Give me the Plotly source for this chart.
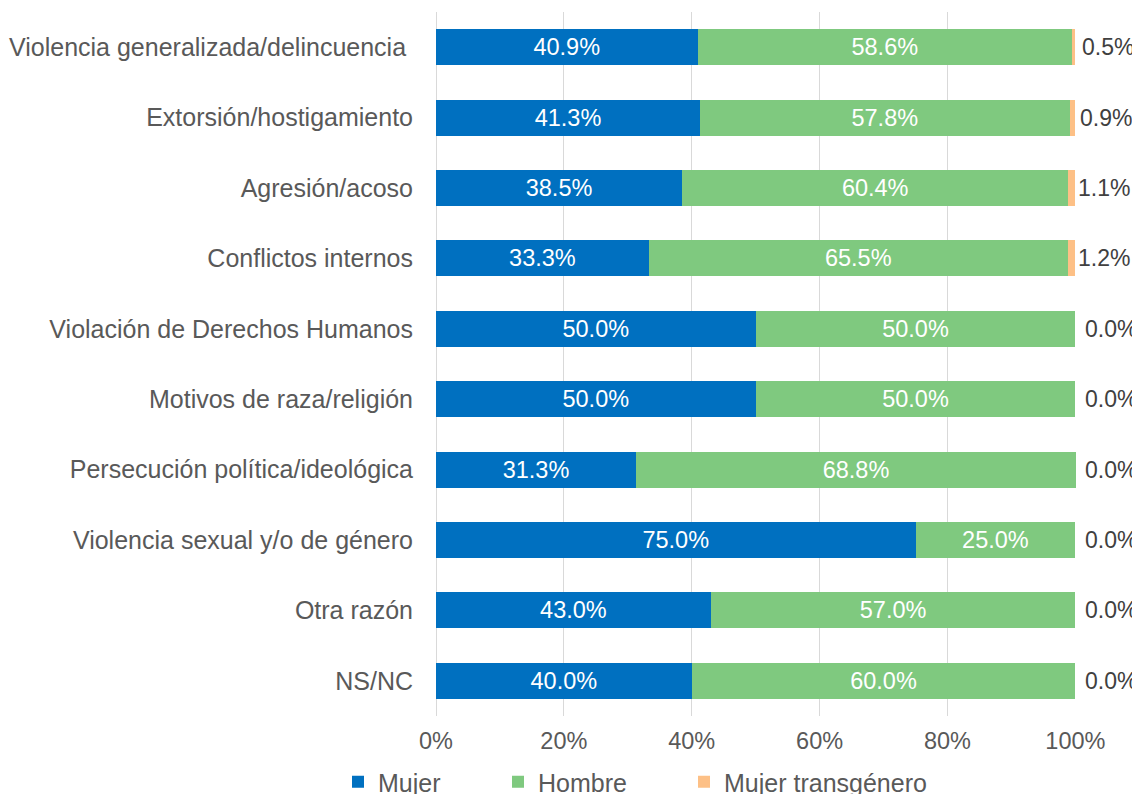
import plotly.graph_objects as go

categories = [
    "Violencia generalizada/delincuencia ",
    "Extorsión/hostigamiento",
    "Agresión/acoso",
    "Conflictos internos",
    "Violación de Derechos Humanos",
    "Motivos de raza/religión",
    "Persecución política/ideológica",
    "Violencia sexual y/o de género",
    "Otra razón",
    "NS/NC",
]
mujer = [40.9, 41.3, 38.5, 33.3, 50.0, 50.0, 31.3, 75.0, 43.0, 40.0]
hombre = [58.6, 57.8, 60.4, 65.5, 50.0, 50.0, 68.8, 25.0, 57.0, 60.0]
trans = [0.5, 0.9, 1.1, 1.2, 0.0, 0.0, 0.0, 0.0, 0.0, 0.0]
x_ticks = [0, 20, 40, 60, 80, 100]
x_ticklabels = ["0%", "20%", "40%", "60%", "80%", "100%"]

C_MUJER = "#0070C0"
C_HOMBRE = "#7FC97F"
C_TRANS = "#FDC086"
FONT = "Liberation Sans, Arial, sans-serif"
FS_DATA = 23.5
FS_CAT = 25
FS_OUT = 23
FS_LEG = 25

W, H = 1132, 786

fig = go.Figure()
fig.add_trace(go.Bar(
    y=categories, x=mujer, name="Mujer", orientation="h",
    marker=dict(color=C_MUJER, line=dict(width=0)),
    text=[f"{v:.1f}%" for v in mujer], textposition="inside",
    insidetextanchor="middle",
    textfont=dict(color="white", size=FS_DATA, family=FONT),
    legend="legend", showlegend=True,
))
fig.add_trace(go.Bar(
    y=categories, x=hombre, name="Hombre", orientation="h",
    marker=dict(color=C_HOMBRE, line=dict(width=0)),
    text=[f"{v:.1f}%" for v in hombre], textposition="inside",
    insidetextanchor="middle",
    textfont=dict(color="white", size=FS_DATA, family=FONT),
    legend="legend2", showlegend=True,
))
fig.add_trace(go.Bar(
    y=categories, x=trans, name="Mujer transgénero", orientation="h",
    marker=dict(color=C_TRANS, line=dict(width=0)),
    textposition="none",
    legend="legend3", showlegend=True,
))

# outside labels for the last series, placed from the start of that segment
bases = [min(a + b, 100) for a, b in zip(mujer, hombre)]
for cat, base, v in zip(categories, bases, trans):
    fig.add_annotation(
        x=base, y=cat, xref="x", yref="y", text=f"{v:.1f}%",
        showarrow=False, xanchor="left", yanchor="middle", xshift=8,
        font=dict(color="#404040", size=FS_OUT, family=FONT),
    )

leg_common = dict(
    orientation="h", yanchor="middle", xanchor="left",
    xref="container", yref="container",
    font=dict(size=FS_LEG, color="#595959", family=FONT),
    bgcolor="rgba(0,0,0,0)", itemwidth=30, tracegroupgap=0,
    visible=True,
)
LEG_Y = 12 / H
fig.update_layout(
    showlegend=True,
    barmode="stack",
    bargap=0.49,
    width=W, height=H,
    margin=dict(l=428, r=64, t=4, b=78, pad=0, autoexpand=False),
    plot_bgcolor="white", paper_bgcolor="white",
    font=dict(family=FONT, size=FS_DATA, color="#595959"),
    legend=dict(x=330 / W, y=LEG_Y, **leg_common),
    legend2=dict(x=490 / W, y=LEG_Y, **leg_common),
    legend3=dict(x=676 / W, y=LEG_Y, **leg_common),
    xaxis=dict(
        range=[0, 100.1], tickvals=x_ticks, ticktext=x_ticklabels,
        showgrid=True, gridcolor="#D9D9D9", gridwidth=1,
        zeroline=True, zerolinecolor="#D9D9D9", zerolinewidth=1,
        showline=False, ticks="outside", ticklen=4, tickcolor="rgba(0,0,0,0)",
        tickfont=dict(size=FS_DATA, color="#595959", family=FONT),
        fixedrange=True, automargin=False,
    ),
    yaxis=dict(
        categoryorder="array", categoryarray=categories,
        autorange="reversed", showgrid=False, showline=False,
        ticks="outside", ticklen=17, tickcolor="rgba(0,0,0,0)",
        tickfont=dict(size=FS_CAT, color="#595959", family=FONT),
        fixedrange=True, automargin=False,
    ),
)

fig.write_html("out.html")
